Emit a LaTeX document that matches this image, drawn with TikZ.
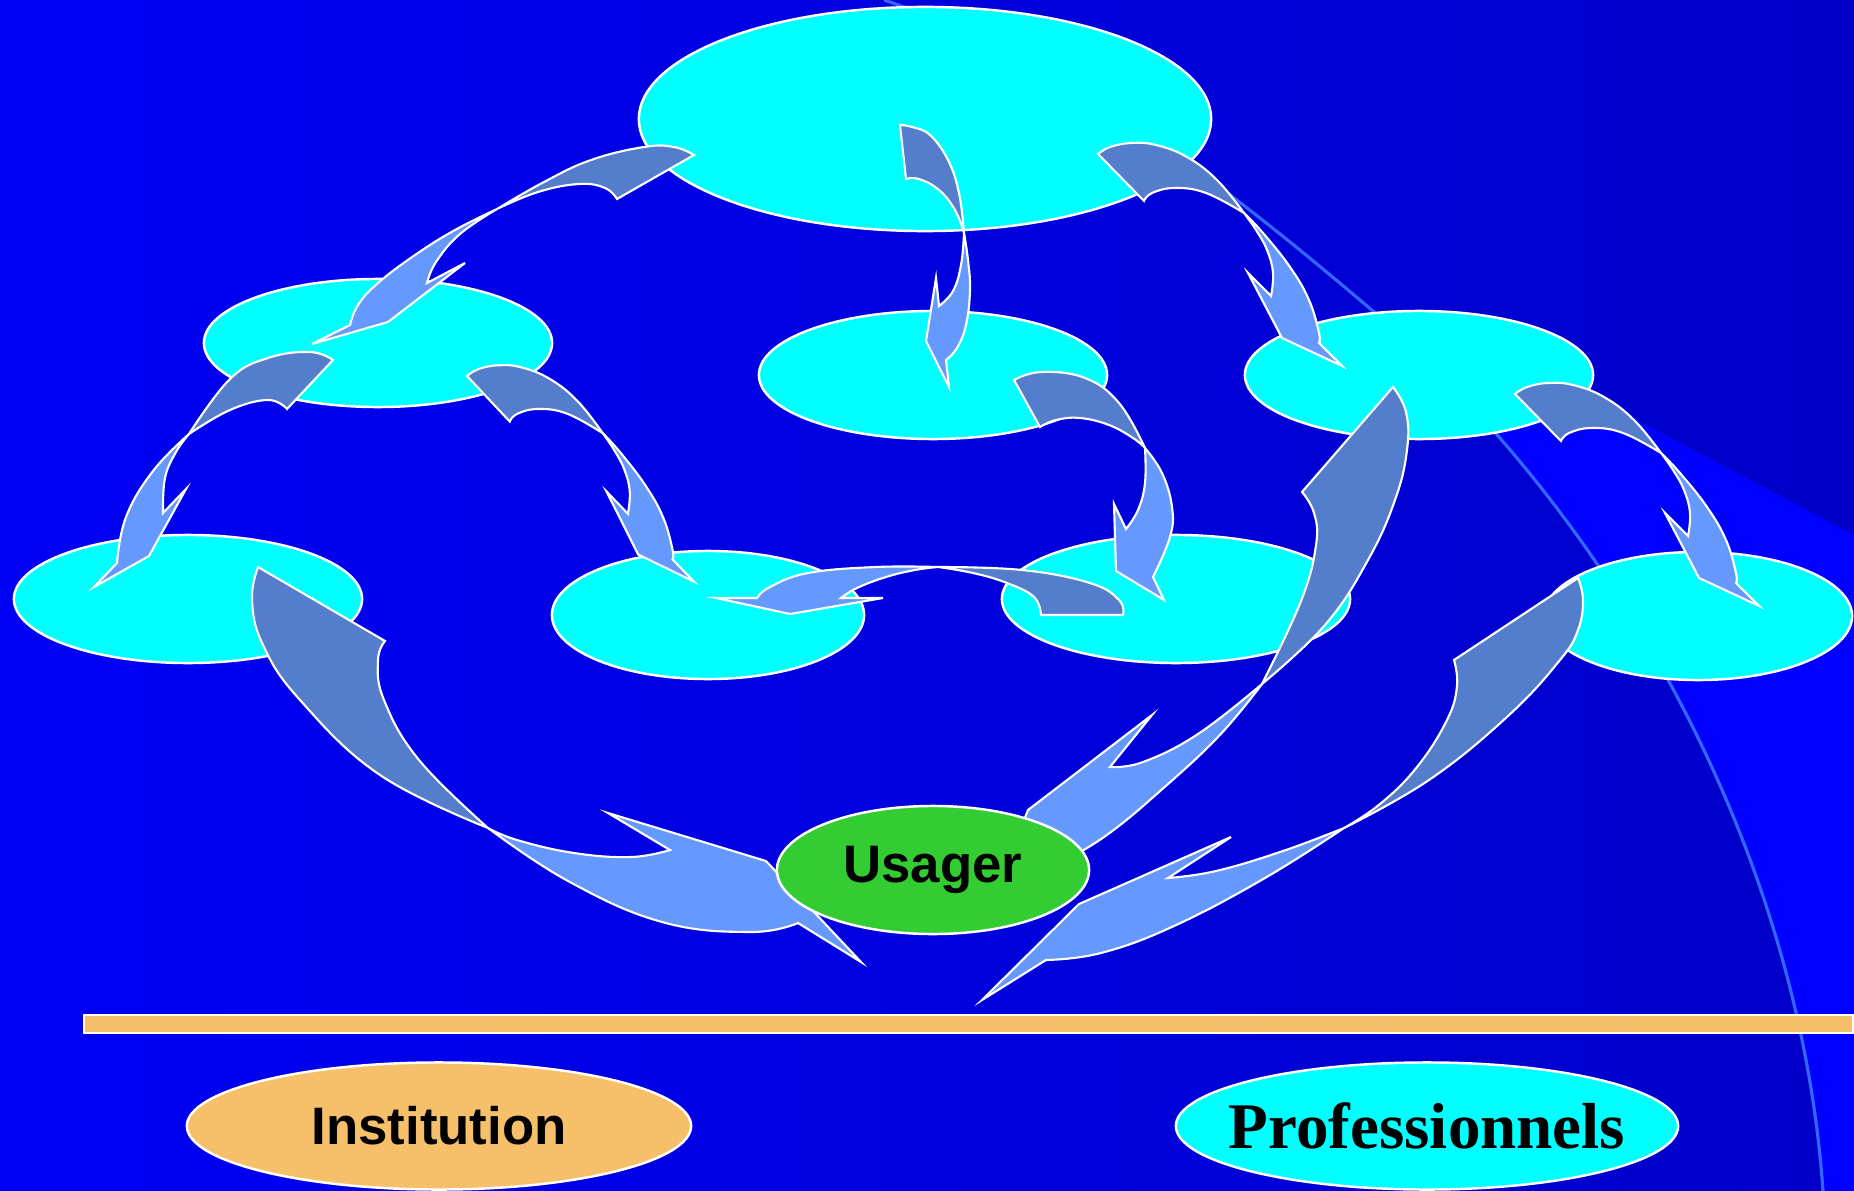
\documentclass[tikz,border=0pt]{standalone}
\usepackage{fontspec}
\setmainfont{Liberation Sans}
\newfontfamily\serifb{Liberation Serif}
\usetikzlibrary{shapes.geometric}
\definecolor{bgL}{RGB}{0,0,245}
\definecolor{bgR}{RGB}{0,0,200}
\definecolor{wedgec}{RGB}{0,0,255}
\definecolor{arcc}{RGB}{51,102,255}
\definecolor{cyanc}{RGB}{0,255,255}
\definecolor{arrL}{RGB}{102,153,255}
\definecolor{arrD}{RGB}{84,126,204}
\definecolor{greenc}{RGB}{51,204,51}
\definecolor{orangec}{RGB}{246,192,106}
\tikzset{
 oval/.style={ellipse, draw=white, line width=0.7pt, fill=cyanc, inner sep=0pt},
 darkarr/.style={fill=arrD, draw=white, line width=0.6pt},
 lightarr/.style={fill=arrL, draw=white, line width=0.6pt},
 sm/.style={smooth, tension=0.7},
 lbl/.style={font=\fontsize{15}{18}\selectfont\bfseries, text=black, inner sep=0pt}
}
\newcommand{\tmplarrow}{%
 \filldraw[darkarr] plot[sm] coordinates {(0,0) (12,-7) (33,-11) (58,-9) (89,3) (119,26) (146,59)} -- plot[sm] coordinates {(146,59) (108,39) (77,34) (54,39) (46,47)} -- cycle;
 \filldraw[lightarr] plot[sm] coordinates {(146,59) (165,79) (192,113) (211,146) (221,179) (221,189)} -- (244,212) -- (184,184) -- (150,119) -- (173,142) -- plot[sm] coordinates {(173,142) (175,119) (169,96) (158,76) (146,59)} -- cycle;
}
\begin{document}
\begin{tikzpicture}[x=0.01cm,y=-0.01cm]
\useasboundingbox (0,0) rectangle (1854,1191);
% background
\shade[left color=bgL, right color=bgR] (0,0) rectangle (1854,1191);
\begin{scope}
 \clip (1450,321) -- (1854,535) -- (1854,1191) -- (1450,1191) -- cycle;
 \fill[wedgec] (884,0) .. controls (1064,60) and (1224,184) .. (1374,312) .. controls (1624,529) and (1800,861) .. (1823,1191) -- (1854,1191) -- (1854,0) -- cycle;
\end{scope}
\draw[arcc, line width=0.9pt] (884,0) .. controls (1064,60) and (1224,184) .. (1374,312) .. controls (1624,529) and (1800,861) .. (1823,1191);
% bar
\node[draw=white, line width=0.6pt, fill=orangec, minimum width=17.68cm, minimum height=0.18cm, inner sep=0pt, anchor=north west] (bar) at (83,1014) {};
% cyan ellipses
\node[oval, minimum width=5.72cm, minimum height=2.24cm] (top) at (925,119) {};
\node[oval, minimum width=3.48cm, minimum height=1.28cm] (lm) at (378,343) {};
\node[oval, minimum width=3.48cm, minimum height=1.28cm] (cm) at (933,375) {};
\node[oval, minimum width=3.48cm, minimum height=1.28cm] (rm) at (1419,375) {};
\node[oval, minimum width=3.48cm, minimum height=1.28cm] (fl) at (188,599) {};
\node[oval, minimum width=3.12cm, minimum height=1.28cm] (cl) at (708,615) {};
\node[oval, minimum width=3.48cm, minimum height=1.28cm] (cr) at (1176,599) {};
\node[oval, minimum width=3.08cm, minimum height=1.28cm] (fr) at (1698,616) {};
% arrow a1: top -> lm
\filldraw[darkarr] plot[sm] coordinates {(694,155) (674,147) (644,147) (591,160) (544,182) (497,209)} -- plot[sm] coordinates {(497,209) (538,192) (579,184) (605,188) (617,199)} -- cycle;
\filldraw[lightarr] plot[sm] coordinates {(497,209) (455,230) (415,255) (378,283) (358,305) (350,325)} -- (312,344) -- (388,322) -- (465,263) -- (427,283) -- plot[sm] coordinates {(427,283) (436,262) (460,234) (497,209)} -- cycle;
% arrow a2: top -> cm
\filldraw[darkarr] plot[sm] coordinates {(900,125) (912,127) (930,135) (948,160) (959,193) (964,233)} -- plot[sm] coordinates {(964,233) (955,210) (939,190) (919,179) (906,179)} -- cycle;
\filldraw[lightarr] plot[sm] coordinates {(964,233) (968,260) (970,290) (966,325) (957,348) (946,360)} -- (949,387) -- (926,341) -- (936,278) -- (939,306) -- plot[sm] coordinates {(939,306) (953,291) (961,265) (964,233)} -- cycle;
% arrow a3: top -> rm
\begin{scope}[shift={(1098,154)}]\tmplarrow\end{scope}
% arrow a4: lm -> fl
\filldraw[darkarr] plot[sm] coordinates {(333,360) (310,352) (268,358) (230,379) (189,434)} -- plot[sm] coordinates {(189,434) (230,410) (268,400) (287,409)} -- cycle;
\filldraw[lightarr] plot[sm] coordinates {(189,434) (153,471) (126,517) (117,563)} -- (94,587) -- (149,556) -- (186,489) -- (163,513) -- plot[sm] coordinates {(163,513) (165,478) (176,452) (189,434)} -- cycle;
% arrow a5: lm -> cl
\begin{scope}[shift={(467,376)}, xscale=0.93, yscale=0.97]\tmplarrow\end{scope}
% arrow a6: cm -> cr
\filldraw[darkarr] plot[sm] coordinates {(1014,380) (1041,372) (1085,378) (1119,403) (1145,448)} -- plot[sm] coordinates {(1145,448) (1133,438) (1109,425) (1080,418) (1056,420) (1040,427)} -- cycle;
\filldraw[lightarr] plot[sm] coordinates {(1145,448) (1162,473) (1172,507) (1170,537) (1153,577)} -- (1164,600) -- (1116,571) -- (1114,504) -- (1126,529) -- plot[sm] coordinates {(1126,529) (1138,510) (1145,483) (1145,448)} -- cycle;
% arrow a7: rm -> fr
\begin{scope}[shift={(1515,394)}]\tmplarrow\end{scope}
% arrow a8: cr -> cl
\filldraw[darkarr] plot[sm] coordinates {(1123,615) (1119,600) (1090,583) (1022,570) (938,567)} -- plot[sm] coordinates {(938,567) (973,573) (1007,583) (1034,597) (1041,615)} -- cycle;
\filldraw[lightarr] plot[sm] coordinates {(938,567) (876,567) (808,573) (770,587) (757,598)} -- (716,598) -- (790,614) -- (883,598) -- (841,598) -- plot[sm] coordinates {(841,598) (857,588) (886,577) (915,570) (938,567)} -- cycle;
% arrow a9: fl -> usager
\filldraw[darkarr] plot[sm] coordinates {(258,567) (252,600) (263,645) (300,700) (380,775) (488,828)} -- plot[sm] coordinates {(488,828) (419,760) (384,700) (378,660) (385,641)} -- cycle;
\filldraw[lightarr] plot[sm] coordinates {(488,828) (568,881) (662,922) (751,932) (798,923)} -- (861,962) -- (766,861) -- (608,813) -- (670,850) -- plot[sm] coordinates {(670,850) (631,857) (574,853) (517,840) (488,828)} -- cycle;
% arrow a10: rm -> usager
\filldraw[darkarr] plot[sm] coordinates {(1393,387) (1406,412) (1407,450) (1395,500) (1368,560) (1325,625) (1262,684)} -- plot[sm] coordinates {(1262,684) (1301,601) (1316,545) (1314,513) (1302,492)} -- cycle;
\filldraw[lightarr] plot[sm] coordinates {(1262,684) (1218,737) (1159,792) (1111,832) (1075,855)} -- (1000,880) -- (1028,810) -- (1152,715) -- (1110,767) -- plot[sm] coordinates {(1110,767) (1143,762) (1198,734) (1262,684)} -- cycle;
% arrow a11: fr -> usager
\filldraw[darkarr] plot[sm] coordinates {(1578,578) (1583,600) (1578,630) (1560,660) (1508,716) (1429,780) (1344,828)} -- plot[sm] coordinates {(1344,828) (1380,804) (1417,767) (1447,720) (1457,686) (1454,660)} -- cycle;
\filldraw[lightarr] plot[sm] coordinates {(1344,828) (1265,878) (1174,926) (1101,953) (1046,960)} -- (982,1000) -- (1079,904) -- (1231,837) -- (1168,878) -- plot[sm] coordinates {(1168,878) (1216,871) (1283,851) (1344,828)} -- cycle;
% Usager
\node[oval, fill=greenc, minimum width=3.12cm, minimum height=1.28cm] (usager) at (933,870) {};
\node[lbl] at (usager) {Usager};
% bottom
\node[oval, fill=orangec, minimum width=5.04cm, minimum height=1.27cm] (inst) at (439,1126) {};
\node[lbl] at (inst) {Institution};
\node[oval, minimum width=5.02cm, minimum height=1.27cm] (prof) at (1427,1126) {};
\node[font=\serifb\fontsize{18.5}{20}\selectfont\bfseries, text=black, inner sep=0pt] at (prof) {Professionnels};
\end{tikzpicture}
\end{document}
